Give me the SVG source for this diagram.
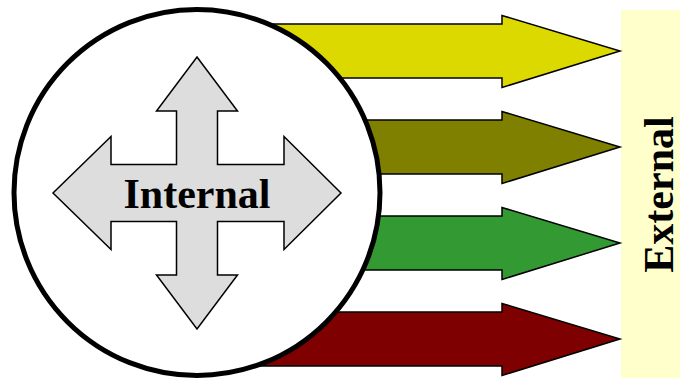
<svg xmlns="http://www.w3.org/2000/svg" width="680" height="378" viewBox="0 0 680 378">
  <style>
    .arrow { stroke: #000; stroke-width: 1.5; stroke-linejoin: miter; }
    .label { font-family: "Liberation Serif", "Times New Roman", serif; font-weight: bold; font-size: 42px; fill: #000; }
  </style>
  <rect width="680" height="378" fill="#fff"/>
  <g id="external">
    <rect x="621" y="10" width="59" height="368" fill="#FFFFCC"/>
    <text class="label" transform="translate(673,194.5) rotate(-90)" text-anchor="middle">External</text>
  </g>
  <g id="connectors">
    <polygon class="arrow" fill="#DCD900" points="220,24 502,24 502,15.5 620,51 502,87.5 502,78 220,78"/>
    <polygon class="arrow" fill="#7F7F00" points="220,120 502,120 502,111.5 620,147 502,183.5 502,174 220,174"/>
    <polygon class="arrow" fill="#339933" points="220,216 502,216 502,207.5 620,243 502,279.5 502,270 220,270"/>
    <polygon class="arrow" fill="#7F0000" points="220,312 502,312 502,303.5 620,339 502,375.5 502,366 220,366"/>
  </g>
  <g id="internal">
    <circle cx="197" cy="192.5" r="183" fill="#fff" stroke="#000" stroke-width="5"/>
    <polygon class="arrow" fill="#DDDDDD" points="197,57 237.5,111 217.5,111 217.5,164.5 284,164.5 284,136.5 341,193 284,249.5 284,221.5 217.5,221.5 217.5,275 237.5,275 197,329 156.5,275 176.5,275 176.5,221.5 111,221.5 111,249.5 53,193 111,136.5 111,164.5 176.5,164.5 176.5,111 156.5,111"/>
    <text class="label" x="197" y="208" text-anchor="middle">Internal</text>
  </g>
</svg>
